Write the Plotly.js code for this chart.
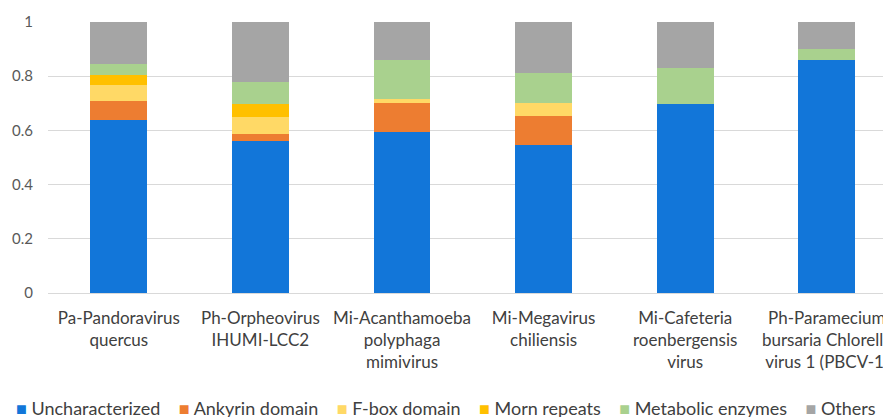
<!DOCTYPE html>
<html>
<head>
<meta charset="utf-8">
<script src="https://cdn.plot.ly/plotly-3.0.1.min.js"></script>
<style>html,body{margin:0;padding:0;background:#fff;overflow:hidden}</style>
</head>
<body>
<div id="chart" style="width:883px;height:417px"></div>
<script>
const categories = [
  "Pa-Pandoravirus<br>quercus",
  "Ph-Orpheovirus<br>IHUMI-LCC2",
  "Mi-Acanthamoeba<br>polyphaga<br>mimivirus",
  "Mi-Megavirus<br>chiliensis",
  "Mi-Cafeteria<br>roenbergensis<br>virus",
  "Ph-Paramecium<br>bursaria Chlorella<br>virus 1 (PBCV-1)"
];
const seriesNames = ["Uncharacterized", "Ankyrin domain", "F-box domain", "Morn repeats", "Metabolic enzymes", "Others"];
const uncharacterized = [0.640, 0.560, 0.594, 0.546, 0.696, 0.859];
const ankyrin         = [0.067, 0.027, 0.108, 0.108, 0.000, 0.000];
const fbox            = [0.062, 0.061, 0.014, 0.048, 0.000, 0.000];
const morn            = [0.034, 0.048, 0.000, 0.000, 0.000, 0.000];
const metabolic       = [0.041, 0.081, 0.143, 0.109, 0.135, 0.040];
const others          = [0.156, 0.223, 0.141, 0.189, 0.169, 0.101];
const yTickVals = [0, 0.2, 0.4, 0.6, 0.8, 1];
const yTickText = ["0", "0.2", "0.4", "0.6", "0.8", "1"];

const colors = ["#1276D9", "#ED7D31", "#FFD966", "#FFC000", "#A9D18E", "#A5A5A5"];
const seriesValues = [uncharacterized, ankyrin, fbox, morn, metabolic, others];

const FONT = "Lato, 'Open Sans', sans-serif";

const traces = seriesValues.map((vals, i) => ({
  type: "bar",
  name: seriesNames[i],
  x: categories,
  y: vals,
  marker: {color: colors[i], line: {width: 0}},
  showlegend: false,
  hoverinfo: "x+y+name"
}));

const legendHtml = seriesNames.map((n, i) =>
  '<span style="color:' + colors[i] + '">■</span> ' + n
).join('&nbsp;&nbsp;&nbsp;&nbsp;');

const layout = {
  width: 883,
  height: 417,
  margin: {l: 48, r: 0, t: 22, b: 124, pad: 0},
  barmode: "stack",
  bargap: 0.6,
  paper_bgcolor: "#ffffff",
  plot_bgcolor: "#ffffff",
  font: {family: FONT, color: "#404040"},
  xaxis: {
    type: "category",
    range: [-0.5, 5.397],
    showgrid: false,
    showline: false,
    zeroline: false,
    ticks: "",
    ticklabelstandoff: 13,
    tickfont: {family: FONT, size: 17, color: "#404040"},
    fixedrange: true
  },
  yaxis: {
    range: [0, 1],
    tickvals: yTickVals,
    ticktext: yTickText,
    showgrid: true,
    gridcolor: "#D9D9D9",
    gridwidth: 1,
    zeroline: true,
    zerolinecolor: "#D9D9D9",
    zerolinewidth: 1,
    showline: false,
    ticks: "",
    ticklabelstandoff: 14,
    tickfont: {family: FONT, size: 15, color: "#595959"},
    fixedrange: true
  },
  annotations: [{
    xref: "paper", yref: "paper",
    x: -0.0407, y: -0.424,
    xanchor: "left", yanchor: "middle",
    showarrow: false,
    align: "left",
    text: legendHtml,
    font: {family: FONT, size: 18, color: "#404040"}
  }]
};

Plotly.newPlot("chart", traces, layout, {displayModeBar: false, staticPlot: true});
</script>
</body>
</html>
